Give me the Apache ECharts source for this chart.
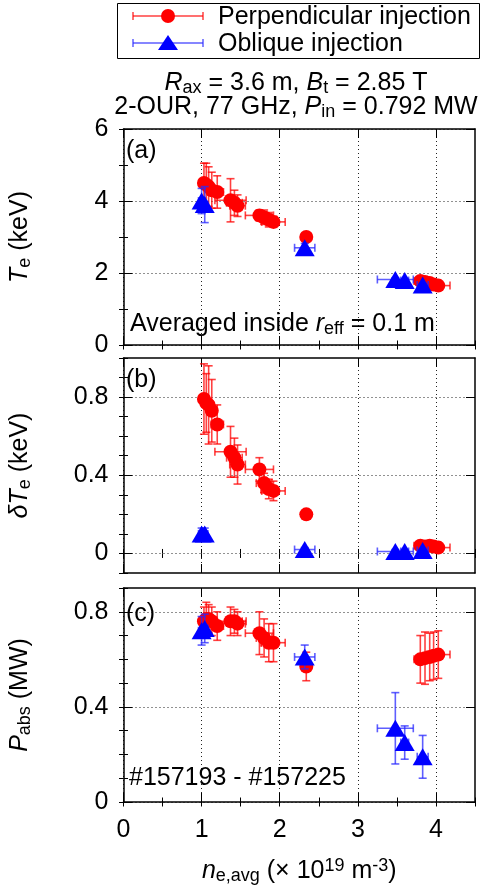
<!DOCTYPE html>
<html>
<head>
<meta charset="utf-8">
<script src="https://cdn.jsdelivr.net/npm/echarts@6/dist/echarts.min.js"></script>
<style>
  html, body { margin: 0; padding: 0; background: #fff; }
  #main { width: 482px; height: 892px; }
</style>
</head>
<body>
<div id="main"></div>
<script>
// shared x ticks
var xTicks = [0, 1, 2, 3, 4];
var teTicks = [0, 2, 4, 6];
var dteTicks = [0, 0.4, 0.8];
var pabsTicks = [0, 0.4, 0.8];

// perpendicular injection (red)
var perpX    = [1.03, 1.06, 1.09, 1.13, 1.20, 1.37, 1.42, 1.46, 1.74, 1.80, 1.86, 1.92, 2.34, 3.80, 3.86, 3.92, 3.97, 4.03];
var perpXErr = [0.05, 0.05, 0.06, 0.06, 0.08, 0.20, 0.10, 0.10, 0.18, 0.10, 0.10, 0.15, 0.05, 0.08, 0.08, 0.08, 0.10, 0.15];
var perpTe      = [4.50, 4.45, 4.40, 4.30, 4.25, 4.02, 3.95, 3.87, 3.60, 3.55, 3.48, 3.42, 3.00, 1.78, 1.75, 1.72, 1.68, 1.65];
var perpTeErr   = [0.55, 0.60, 0.55, 0.50, 0.45, 0.60, 0.35, 0.30, 0.15, 0.20, 0.20, 0.15, 0.10, 0.08, 0.08, 0.08, 0.08, 0.08];
var perpDTe     = [0.79, 0.77, 0.76, 0.73, 0.66, 0.52, 0.49, 0.455, 0.43, 0.36, 0.33, 0.32, 0.20, 0.04, 0.035, 0.04, 0.035, 0.03];
var perpDTeErr  = [0.18, 0.15, 0.20, 0.16, 0.10, 0.13, 0.10, 0.10, 0.06, 0.05, 0.05, 0.05, 0.02, 0.01, 0.01, 0.01, 0.01, 0.01];
var perpPabs    = [0.76, 0.77, 0.77, 0.76, 0.74, 0.76, 0.76, 0.75, 0.71, 0.69, 0.67, 0.67, 0.57, 0.60, 0.605, 0.61, 0.615, 0.62];
var perpPabsErr = [0.06, 0.07, 0.06, 0.06, 0.06, 0.06, 0.05, 0.05, 0.09, 0.08, 0.08, 0.08, 0.06, 0.10, 0.11, 0.10, 0.10, 0.10];

// oblique injection (blue)
var oblX    = [1.00, 1.04, 2.32, 3.48, 3.60, 3.83];
var oblXErr = [0.04, 0.04, 0.13, 0.23, 0.05, 0.07];
var oblTe      = [4.00, 3.90, 2.70, 1.82, 1.79, 1.67];
var oblTeErr   = [0.35, 0.50, 0.12, 0.05, 0.05, 0.05];
var oblDTe     = [0.10, 0.10, 0.02, 0.01, 0.01, 0.015];
var oblDTeErr  = [0.03, 0.03, 0.01, 0.01, 0.01, 0.01];
var oblPabs    = [0.72, 0.73, 0.61, 0.31, 0.25, 0.19];
var oblPabsErr = [0.06, 0.06, 0.05, 0.15, 0.07, 0.09];

var F = 'Liberation Sans';
var FS = 25;
var rich = {
    n: { fontFamily: F, fontSize: FS, lineHeight: 28, color: '#000' },
    i: { fontFamily: F, fontSize: FS, lineHeight: 28, fontStyle: 'italic', color: '#000' },
    sub: { fontFamily: F, fontSize: 18, lineHeight: 14, verticalAlign: 'bottom', color: '#000' },
    sup: { fontFamily: F, fontSize: 18, lineHeight: 2, verticalAlign: 'top', color: '#000' }
};

var grids = [
    { left: 117, top: 129, width: 358, height: 216 },
    { left: 117, top: 358, width: 358, height: 215 },
    { left: 117, top: 588, width: 358, height: 214 }
];
var yRange = [[0, 6], [-0.1, 1.0], [0, 0.9]];
var yMinor = [1, 0.1, 0.1];
var yMajor = [teTicks, dteTicks, pabsTicks];
var yNames = [
    '{i|T}{sub|e}{n| (keV)}',
    '{i|δT}{sub|e}{n| (keV)}',
    '{i|P}{sub|abs}{n| (MW)}'
];

var xAxes = [], yAxes = [];
grids.forEach(function (g, k) {
    var last = k === 2;
    ['bottom', 'top'].forEach(function (pos) {
        var main = pos === 'bottom';
        xAxes.push({
            type: 'value', gridIndex: k, position: pos, min: 0, max: 4.5,
            axisLine: { show: true, onZero: false, lineStyle: { color: '#000', width: 1.5 } },
            axisTick: { show: true, inside: true, length: 9, customValues: xTicks, lineStyle: { color: '#000' } },
            axisLabel: { show: main && last, customValues: xTicks, margin: 16, color: '#000', fontFamily: F, fontSize: FS },
            splitLine: { show: main, lineStyle: { color: '#222', type: [1, 3], width: 1 } },
            name: main && last ? '{i|n}{sub|e,avg}{n| (× 10}{sup|19}{n| m}{sup|-3}{n|)}' : '',
            nameLocation: 'middle', nameGap: 55,
            nameTextStyle: { rich: rich }
        });
        xAxes.push({
            type: 'value', gridIndex: k, position: pos, min: 0, max: 4.5, interval: 0.5,
            axisLine: { show: false },
            axisTick: { show: true, inside: true, length: 4.5, lineStyle: { color: '#000' } },
            axisLabel: { show: false }, splitLine: { show: false }
        });
    });
    ['left', 'right'].forEach(function (pos) {
        var main = pos === 'left';
        yAxes.push({
            type: 'value', gridIndex: k, position: pos, min: yRange[k][0], max: yRange[k][1],
            axisLine: { show: true, onZero: false, lineStyle: { color: '#000', width: 1.5 } },
            axisTick: { show: true, inside: true, length: 9, customValues: yMajor[k], lineStyle: { color: '#000' } },
            axisLabel: { show: main, customValues: yMajor[k], margin: 15, color: '#000', fontFamily: F, fontSize: FS },
            splitLine: { show: main, lineStyle: { color: '#222', type: [1, 3], width: 1 } },
            name: main ? yNames[k] : '',
            nameLocation: 'middle', nameGap: 89, nameRotate: 90,
            nameTextStyle: { rich: rich }
        });
        yAxes.push({
            type: 'value', gridIndex: k, position: pos, min: yRange[k][0], max: yRange[k][1], interval: yMinor[k],
            axisLine: { show: false },
            axisTick: { show: true, inside: true, length: 4.5, lineStyle: { color: '#000' } },
            axisLabel: { show: false }, splitLine: { show: false }
        });
    });
});

function rows(xs, xe, ys, ye) {
    return xs.map(function (x, i) { return [x, ys[i], xe[i], ye[i]]; });
}

function errRender(params, api) {
    var x = api.value(0), y = api.value(1), ex = api.value(2), ey = api.value(3);
    var l = api.coord([x - ex, y]), r = api.coord([x + ex, y]);
    var b = api.coord([x, y - ey]), t = api.coord([x, y + ey]);
    var c = 4;
    var st = { stroke: api.visual('color'), lineWidth: 1.6 };
    function ln(x1, y1, x2, y2) { return { type: 'line', shape: { x1: x1, y1: y1, x2: x2, y2: y2 }, style: st }; }
    return {
        type: 'group', children: [
            ln(l[0], l[1], r[0], r[1]),
            ln(l[0], l[1] - c, l[0], l[1] + c),
            ln(r[0], r[1] - c, r[0], r[1] + c),
            ln(b[0], b[1], t[0], t[1]),
            ln(b[0] - c, b[1], b[0] + c, b[1]),
            ln(t[0] - c, t[1], t[0] + c, t[1])
        ]
    };
}

var panels = [
    { perp: [perpTe, perpTeErr], obl: [oblTe, oblTeErr] },
    { perp: [perpDTe, perpDTeErr], obl: [oblDTe, oblDTeErr] },
    { perp: [perpPabs, perpPabsErr], obl: [oblPabs, oblPabsErr] }
];

var series = [];
panels.forEach(function (p, k) {
    var ax = { xAxisIndex: k * 4, yAxisIndex: k * 4 };
    var red = rows(perpX, perpXErr, p.perp[0], p.perp[1]);
    var blue = rows(oblX, oblXErr, p.obl[0], p.obl[1]);
    series.push(Object.assign({
        type: 'custom', name: 'Perpendicular injection', renderItem: errRender,
        itemStyle: { color: 'rgba(255,0,0,0.75)' }, encode: { x: 0, y: 1 }, data: red, z: 2
    }, ax));
    series.push(Object.assign({
        type: 'scatter', name: 'Perpendicular injection', symbol: 'circle', symbolSize: 14,
        itemStyle: { color: '#ff0000', opacity: 1 }, data: red, z: 3
    }, ax));
    series.push(Object.assign({
        type: 'custom', name: 'Oblique injection', renderItem: errRender,
        itemStyle: { color: 'rgba(40,40,255,0.75)' }, encode: { x: 0, y: 1 }, data: blue, z: 4
    }, ax));
    series.push(Object.assign({
        type: 'scatter', name: 'Oblique injection', symbol: 'triangle', symbolSize: [20, 17],
        itemStyle: { color: '#0000ff', opacity: 1 }, data: blue, z: 5
    }, ax));
});

function txt(x, y, text, align) {
    return {
        type: 'text', x: x, y: y, z: 10,
        style: { text: text, rich: rich, align: align || 'left', verticalAlign: 'middle', font: FS + 'px ' + F }
    };
}

var graphic = [
    // legend
    { type: 'rect', shape: { x: 117.5, y: 3.5, width: 362, height: 55 }, style: { fill: '#fff', stroke: '#000', lineWidth: 1 }, z: 9 },
    { type: 'line', shape: { x1: 133, y1: 16, x2: 203, y2: 16 }, style: { stroke: 'rgba(255,0,0,0.75)', lineWidth: 1.5 }, z: 10 },
    { type: 'line', shape: { x1: 133, y1: 12, x2: 133, y2: 20 }, style: { stroke: 'rgba(255,0,0,0.75)', lineWidth: 1.5 }, z: 10 },
    { type: 'line', shape: { x1: 203, y1: 12, x2: 203, y2: 20 }, style: { stroke: 'rgba(255,0,0,0.75)', lineWidth: 1.5 }, z: 10 },
    { type: 'circle', shape: { cx: 168, cy: 16, r: 7 }, style: { fill: '#ff0000' }, z: 11 },
    { type: 'line', shape: { x1: 133, y1: 43, x2: 203, y2: 43 }, style: { stroke: 'rgba(40,40,255,0.75)', lineWidth: 1.5 }, z: 10 },
    { type: 'line', shape: { x1: 133, y1: 39, x2: 133, y2: 47 }, style: { stroke: 'rgba(40,40,255,0.75)', lineWidth: 1.5 }, z: 10 },
    { type: 'line', shape: { x1: 203, y1: 39, x2: 203, y2: 47 }, style: { stroke: 'rgba(40,40,255,0.75)', lineWidth: 1.5 }, z: 10 },
    { type: 'polygon', shape: { points: [[158, 50], [178, 50], [168, 35]] }, style: { fill: '#0000ff' }, z: 11 },
    txt(218, 17, '{n|Perpendicular injection}'),
    txt(218, 44, '{n|Oblique injection}'),
    // header
    txt(296, 83, '{i|R}{sub|ax}{n| = 3.6 m, }{i|B}{sub|t}{n| = 2.85 T}', 'center'),
    txt(296, 107, '{n|2-OUR, 77 GHz, }{i|P}{sub|in}{n| = 0.792 MW}', 'center'),
    // panel annotations
    txt(126, 151, '{n|(a)}'),
    txt(126, 380, '{n|(b)}'),
    txt(126, 614, '{n|(c)}'),
    txt(130, 324, '{n|Averaged inside }{i|r}{sub|eff}{n| = 0.1 m}'),
    txt(129, 778, '{n|#157193 - #157225}')
];

var chart = echarts.init(document.getElementById('main'));
chart.setOption({
    animation: false,
    backgroundColor: '#fff',
    grid: grids,
    xAxis: xAxes,
    yAxis: yAxes,
    series: series,
    graphic: graphic
});
</script>
</body>
</html>
